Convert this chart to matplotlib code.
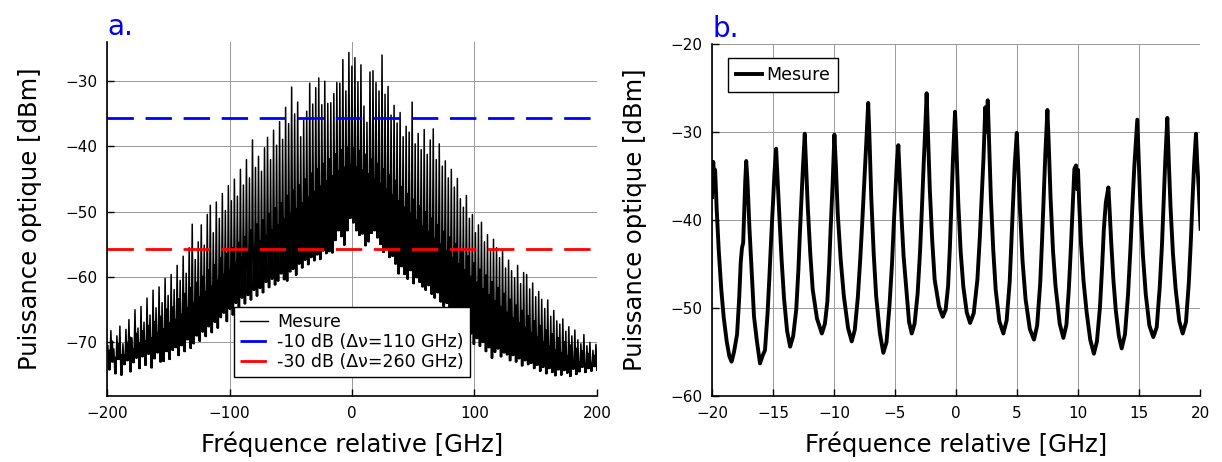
import matplotlib
matplotlib.use("Agg")
import matplotlib.pyplot as plt
import numpy as np

# ---- panel a : whole comb, per comb line: peak, noisy floor top, trough (dBm)
a_comb_start = -199.34   # GHz, first comb line
a_comb_step = 2.46       # GHz, comb spacing (same as panel b)
a_peaks = [
    -70.5, -68.2, -71.0, -69.0, -67.5, -70.2, -68.0, -66.5, -69.3, -65.0,
    -67.8, -64.5, -66.9, -63.2, -65.8, -62.0, -64.7, -61.5, -63.9, -60.2,
    -62.8, -59.6, -61.9, -58.2, -60.5, -56.8, -59.4, -55.5, -51.9, -57.3,
    -54.6, -52.0, -55.1, -50.4, -49.0, -53.2, -48.5, -51.0, -47.2, -49.8,
    -46.0, -48.3, -45.0, -47.6, -43.5, -45.9, -42.0, -44.8, -39.0, -43.2,
    -41.5, -43.8, -40.2, -38.6, -42.0, -37.5, -39.8, -36.2, -38.9, -34.0,
    -36.5, -30.9, -35.0, -33.2, -38.5, -36.0, -34.6, -30.3, -33.5, -31.0,
    -29.5, -33.6, -30.0, -33.4, -33.3, -31.9, -30.2, -30.3, -26.7, -31.5,
    -25.6, -27.7, -26.4, -30.1, -27.5, -33.8, -36.3, -28.6, -28.4, -30.2,
    -31.5, -26.0, -32.0, -30.8, -35.2, -33.7, -36.4, -34.8, -38.5, -36.9,
    -37.8, -33.2, -39.6, -38.0, -40.5, -37.4, -41.2, -39.0, -37.3, -42.0,
    -39.6, -43.0, -42.2, -44.8, -43.5, -46.2, -44.9, -48.0, -49.3, -47.5,
    -51.0, -50.4, -53.2, -52.0, -51.6, -54.6, -53.5, -56.0, -54.2, -55.5,
    -57.0, -55.8, -58.6, -57.4, -59.0, -60.1, -58.2, -61.0, -59.3, -59.6,
    -61.8, -60.9, -63.0, -62.2, -63.4, -64.8, -63.5, -66.0, -65.1, -66.7,
    -67.2, -66.4, -68.3, -67.6, -69.0, -68.1, -69.6, -70.2, -68.8, -70.5,
    -70.0, -71.2, -70.3]
a_floor = [
    -71.2, -69.8, -72.3, -70.2, -71.9, -72.0, -70.0, -69.2, -71.0, -68.6,
    -70.1, -68.2, -69.8, -67.4, -69.3, -66.8, -68.5, -66.0, -67.9, -64.9,
    -67.0, -64.6, -66.5, -63.3, -65.6, -62.5, -64.7, -61.6, -63.9, -60.8,
    -63.0, -59.9, -62.2, -58.9, -61.3, -58.1, -60.5, -57.0, -59.6, -56.4,
    -58.9, -55.5, -57.9, -54.7, -57.0, -53.8, -56.2, -52.8, -55.4, -51.9,
    -54.5, -51.2, -53.7, -50.3, -52.8, -49.4, -52.0, -48.6, -51.1, -47.5,
    -50.3, -46.6, -49.5, -45.9, -48.6, -45.0, -47.8, -44.1, -46.9, -43.4,
    -46.1, -42.6, -45.3, -41.9, -44.5, -41.1, -43.8, -40.5, -43.2, -40.1,
    -42.8, -40.2, -43.1, -40.6, -43.6, -41.2, -44.2, -41.9, -44.9, -42.6,
    -45.7, -43.4, -46.5, -44.3, -47.4, -45.2, -48.3, -46.2, -49.3, -47.2,
    -50.2, -48.1, -51.2, -49.1, -52.2, -50.0, -53.1, -51.0, -54.1, -52.0,
    -55.0, -53.0, -56.0, -53.9, -57.0, -54.9, -58.0, -55.9, -58.9, -56.8,
    -59.9, -57.8, -60.8, -58.8, -61.8, -59.7, -62.7, -60.7, -63.6, -61.6,
    -64.5, -62.5, -65.4, -63.4, -66.2, -64.3, -67.0, -65.1, -67.8, -65.9,
    -68.5, -66.7, -69.2, -67.4, -69.9, -68.1, -70.5, -68.7, -71.1, -69.3,
    -71.6, -69.9, -72.1, -70.4, -72.6, -70.9, -73.0, -71.3, -73.3, -71.7,
    -73.1, -72.0, -72.9]
a_troughs = [
    -74.2, -73.0, -74.8, -72.6, -75.0, -73.4, -72.8, -74.5, -73.1, -72.4,
    -74.0, -72.2, -73.5, -71.8, -73.9, -72.5, -71.6, -73.0, -72.9, -71.4,
    -72.6, -71.2, -70.8, -72.0, -70.5, -71.4, -69.6, -70.9, -70.2, -69.0,
    -69.8, -68.4, -69.1, -67.6, -68.5, -66.9, -67.8, -66.2, -65.5, -66.8,
    -64.9, -65.8, -64.0, -64.7, -63.2, -64.1, -62.8, -63.5, -62.0, -62.9,
    -61.7, -62.4, -60.8, -61.6, -60.3, -61.2, -60.6, -59.5, -60.4, -60.6,
    -59.2, -58.8, -59.7, -58.0, -58.6, -57.4, -58.1, -57.0, -57.5, -56.6,
    -57.3, -56.0, -56.4, -56.1, -56.3, -54.4, -52.9, -53.8, -55.1, -52.9,
    -51.0, -51.7, -52.9, -53.6, -53.4, -55.2, -54.6, -53.3, -52.9, -54.0,
    -55.0, -56.2, -55.6, -57.0, -56.8, -58.0, -59.5, -58.4, -59.6, -60.3,
    -59.0, -61.0, -60.1, -60.8, -61.5, -62.0, -61.3, -62.6, -63.2, -62.4,
    -63.8, -64.5, -64.0, -65.6, -66.2, -65.5, -67.0, -66.6, -68.0, -67.5,
    -68.7, -70.3, -69.4, -70.6, -70.0, -71.4, -70.8, -72.4, -71.5, -71.0,
    -72.2, -71.6, -71.9, -72.8, -72.0, -73.0, -72.5, -73.6, -72.8, -73.4,
    -73.2, -74.0, -73.5, -74.4, -73.8, -74.8, -74.0, -74.6, -75.1, -74.2,
    -75.0, -74.3, -74.7, -75.2, -74.1, -74.9, -74.5, -73.8, -74.6, -74.0,
    -74.4, -73.7, -74.3]
a_level_10db = -35.7
a_level_30db = -55.7
a_labels = ["Mesure", "-10 dB (Δν=110 GHz)", "-30 dB (Δν=260 GHz)"]

# ---- panel b : zoom on +-20 GHz
b_freq = [
    -20.00, -19.97, -19.90, -19.82, -19.75, -19.62, -19.45, -19.25, -19.05, -18.80, -18.58, -18.40, -18.20, -17.95, -17.78, -17.65, -17.55, -17.45, -17.35, -17.28, -17.20,
    -17.10, -16.94, -16.75, -16.56, -16.33, -16.07, -15.85, -15.66, -15.45, -15.30, -15.15, -15.00, -14.88, -14.75,
    -14.65, -14.48, -14.30, -14.10, -13.85, -13.60, -13.35, -13.10, -12.92, -12.80, -12.68, -12.55, -12.40,
    -12.30, -12.15, -11.95, -11.75, -11.40, -11.00, -10.75, -10.55, -10.40, -10.28, -10.12, -9.97,
    -9.85, -9.70, -9.45, -9.20, -8.85, -8.55, -8.30, -8.05, -7.85, -7.70, -7.50, -7.35, -7.20,
    -7.10, -6.95, -6.75, -6.55, -6.25, -5.96, -5.70, -5.45, -5.25, -5.10, -4.95, -4.85, -4.73,
    -4.63, -4.48, -4.30, -4.10, -3.85, -3.63, -3.40, -3.15, -2.95, -2.80, -2.65, -2.52, -2.41,
    -2.31, -2.15, -1.95, -1.75, -1.40, -1.09, -0.85, -0.65, -0.50, -0.38, -0.25, -0.08,
    0.02, 0.18, 0.38, 0.60, 0.88, 1.15, 1.45, 1.75, 1.95, 2.10, 2.25, 2.40, 2.52, 2.60,
    2.70, 2.86, 3.05, 3.25, 3.55, 3.88, 4.15, 4.40, 4.55, 4.68, 4.80, 4.98,
    5.08, 5.24, 5.45, 5.70, 6.05, 6.39, 6.65, 6.90, 7.05, 7.18, 7.32, 7.49,
    7.59, 7.75, 7.95, 8.15, 8.50, 8.80, 9.05, 9.25, 9.42, 9.55, 9.70, 9.84, 9.92, 10.00,
    10.10, 10.25, 10.45, 10.70, 11.00, 11.30, 11.55, 11.80, 11.98, 12.12, 12.28, 12.49,
    12.58, 12.72, 12.90, 13.10, 13.35, 13.58, 13.85, 14.10, 14.30, 14.45, 14.62, 14.86,
    14.96, 15.12, 15.32, 15.55, 15.85, 16.17, 16.45, 16.70, 16.88, 17.02, 17.16, 17.32,
    17.42, 17.58, 17.78, 18.00, 18.30, 18.58, 18.85, 19.08, 19.25, 19.38, 19.52, 19.67,
    19.77, 19.90, 20.05]
b_power = [
    -37.4, -34.5, -33.4, -35.2, -34.3, -38.8, -43.5, -47.8, -51.0, -53.8, -55.5, -56.1, -55.0, -53.0, -49.0, -44.8, -43.2, -42.6, -38.5, -35.6, -33.3,
    -35.5, -40.8, -46.0, -51.0, -53.7, -56.3, -55.4, -54.8, -50.6, -46.5, -42.0, -37.8, -34.6, -31.9,
    -34.8, -39.6, -44.5, -48.9, -52.6, -54.4, -53.2, -50.2, -45.6, -41.5, -37.9, -34.0, -30.2,
    -33.5, -38.6, -43.8, -47.9, -51.2, -52.9, -51.8, -49.3, -45.2, -41.0, -36.0, -30.3,
    -33.8, -39.2, -44.6, -48.6, -52.3, -53.8, -52.5, -48.8, -44.4, -40.6, -35.2, -31.0, -26.7,
    -30.5, -37.4, -43.8, -48.6, -52.8, -55.1, -53.9, -49.6, -45.0, -40.4, -36.2, -33.5, -31.5,
    -34.6, -39.4, -44.1, -47.5, -51.6, -52.9, -51.8, -48.4, -43.6, -38.8, -33.6, -29.5, -25.6,
    -29.8, -36.5, -42.4, -46.8, -49.8, -51.0, -50.2, -47.5, -43.0, -38.2, -33.0, -27.7,
    -31.2, -37.9, -43.6, -47.6, -50.5, -51.7, -50.6, -46.8, -42.0, -37.5, -33.0, -27.2, -30.0, -26.4,
    -30.8, -37.6, -43.4, -47.9, -51.5, -52.9, -51.4, -47.0, -42.2, -38.0, -34.0, -30.1,
    -33.2, -38.8, -44.6, -49.0, -52.4, -53.6, -52.0, -47.2, -42.4, -37.6, -32.5, -27.5,
    -31.0, -37.5, -43.5, -47.4, -51.8, -53.4, -51.9, -47.8, -43.0, -38.9, -34.2, -33.8, -36.5, -34.3,
    -38.2, -42.8, -46.9, -50.4, -53.6, -55.2, -53.8, -49.9, -45.2, -41.0, -38.0, -36.3,
    -38.6, -42.5, -46.8, -50.3, -53.2, -54.6, -53.0, -48.5, -43.2, -38.6, -33.8, -28.6,
    -32.6, -38.7, -44.0, -48.4, -52.0, -53.3, -52.2, -47.6, -42.9, -37.8, -33.0, -28.4,
    -32.5, -38.4, -43.8, -47.8, -51.5, -52.9, -51.6, -47.2, -42.4, -37.9, -33.6, -30.2,
    -33.4, -36.6, -41.0]

# trace of panel a : peak, trough, floor, trough, next peak ...
k = np.arange(len(a_peaks))
f_peak = a_comb_start + a_comb_step * k
a_freq = np.column_stack([f_peak, f_peak + a_comb_step / 3,
                          f_peak + a_comb_step / 2, f_peak + 2 * a_comb_step / 3]).ravel()
a_power = np.column_stack([a_peaks, a_troughs, a_floor, a_troughs]).ravel()

plt.rcParams["font.family"] = "DejaVu Sans"
fig = plt.figure(figsize=(12.22, 4.62), dpi=100)
ax1 = fig.add_axes([0.0876, 0.1429, 0.4009, 0.7662])
ax2 = fig.add_axes([0.5827, 0.1429, 0.3993, 0.7619])


def style(ax):
    ax.grid(True, color="0.6", lw=0.7)
    ax.set_axisbelow(True)
    for s in ["top", "right"]:
        ax.spines[s].set_visible(False)
    for s in ["left", "bottom"]:
        ax.spines[s].set_linewidth(1.2)
    ax.tick_params(direction="in", length=5, width=1, labelsize=11)
    ax.tick_params(axis="x", pad=7)
    ax.tick_params(axis="y", pad=7)
    ax.set_xlabel("Fréquence relative [GHz]", fontsize=17.5, labelpad=8)
    ax.set_ylabel("Puissance optique [dBm]", fontsize=17.5, labelpad=17)


# panel a
ax1.plot(a_freq, a_power, color="black", lw=1.1, label=a_labels[0])
ax1.axhline(a_level_10db, color="blue", lw=2, dashes=(9.5, 4.2), label=a_labels[1])
ax1.axhline(a_level_30db, color="red", lw=2, dashes=(9.5, 4.2), label=a_labels[2])
ax1.set_xlim(-200, 200)
ax1.set_ylim(-78.2, -24.0)
ax1.set_xticks([-200, -100, 0, 100, 200])
ax1.set_yticks([-70, -60, -50, -40, -30])
style(ax1)
ax1.set_title("a.", loc="left", color="blue", fontsize=20, pad=5)
leg = ax1.legend(loc="lower center", bbox_to_anchor=(0.5, 0.03), fontsize=12.5,
                 handlelength=1.6, handletextpad=0.5, borderpad=0.35,
                 labelspacing=0.1, fancybox=False, framealpha=1, edgecolor="black")
leg.get_frame().set_linewidth(1)
leg.get_lines()[0].set_linewidth(1)

# panel b
ax2.plot(b_freq, b_power, color="black", lw=2.8, label="Mesure")
ax2.set_xlim(-20, 20)
ax2.set_ylim(-60, -20)
ax2.set_xticks(np.arange(-20, 21, 5))
ax2.set_yticks([-60, -50, -40, -30, -20])
style(ax2)
ax2.set_title("b.", loc="left", color="blue", fontsize=20, pad=5)
leg2 = ax2.legend(loc="upper left", bbox_to_anchor=(0.015, 0.985), fontsize=12.5,
                  handlelength=1.5, handletextpad=0.25, borderpad=0.45,
                  fancybox=False, framealpha=1, edgecolor="black")
leg2.get_frame().set_linewidth(1)

fig.savefig("out.png", dpi=100)
